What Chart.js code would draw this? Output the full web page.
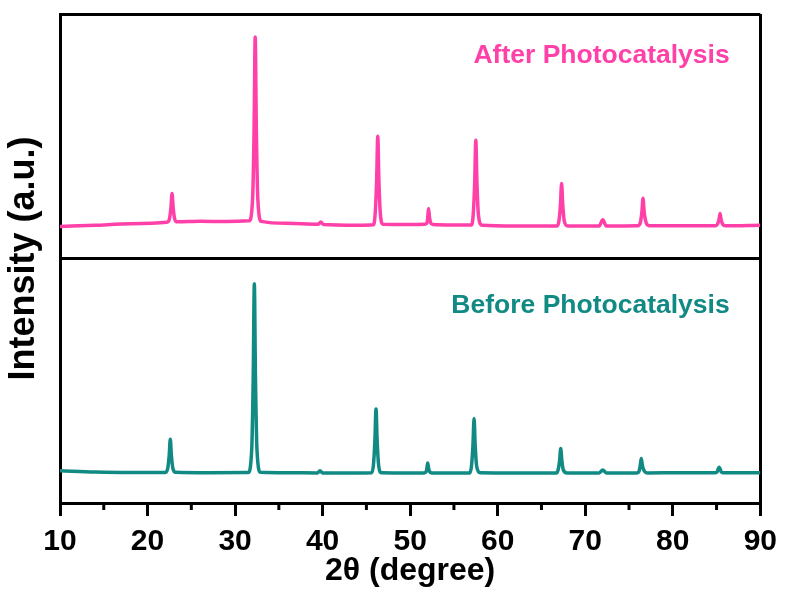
<!DOCTYPE html>
<html><head><meta charset="utf-8">
<script src="https://cdn.jsdelivr.net/npm/chart.js"></script>
<style>html,body{margin:0;padding:0;background:#fff;}canvas{display:block;}</style>
</head><body>
<canvas id="c" width="785" height="591"></canvas>
<script>
// ---- data (panel units) ----
const afterTheta = [10,14,18,22.2,22.5,22.67,22.8,22.93,23.1,23.4,26,29,31.6,32.0,32.17,32.3,32.43,32.6,33.0,36,39.5,39.8,40.1,44,45.8,46.0,46.17,46.3,46.43,46.6,46.9,50,51.7,51.93,52.02,52.1,52.2,52.33,52.6,55,57.0,57.2,57.37,57.5,57.63,57.8,58.2,62,66.8,67.0,67.17,67.3,67.43,67.6,68.0,71.6,72.0,72.4,76.0,76.3,76.47,76.6,76.73,76.95,77.3,81,84.9,85.1,85.28,85.4,85.52,85.7,86.0,90];
const afterIntensity = [13.1,13.6,14.2,14.8,16.2,20.7,26.6,20.7,16.2,15.0,15.2,15.1,15.4,24.2,52.9,90.6,52.9,24.2,15.2,14.4,14.0,14.9,13.9,13.6,13.8,18.1,31.9,50.0,31.9,18.1,14.0,13.9,14.0,14.7,17.2,20.5,17.2,14.7,13.9,13.7,13.7,17.8,31.0,48.4,31.0,17.8,13.6,13.3,13.3,15.4,22.0,30.7,22.0,15.4,13.3,13.3,15.8,13.3,13.4,14.7,19.0,24.6,19.0,14.7,13.4,13.4,13.4,14.0,15.9,18.4,15.9,14.0,13.4,13.6];
const beforeTheta = [10,14,18,22.0,22.3,22.47,22.6,22.73,22.9,23.2,27,31.5,31.9,32.07,32.2,32.33,32.5,32.9,36,39.4,39.7,40.0,44,45.6,45.8,45.97,46.1,46.23,46.4,46.7,50,51.6,51.83,51.92,52.0,52.1,52.23,52.5,56.8,57.0,57.17,57.3,57.43,57.6,58.0,62,66.7,66.9,67.07,67.2,67.33,67.5,67.9,71.6,72.0,72.4,75.9,76.15,76.28,76.4,76.53,76.75,77.1,81,84.8,85.05,85.3,85.55,85.8,90];
const beforeIntensity = [13.2,12.7,12.5,12.5,14.1,19.3,26.1,19.3,14.1,12.6,12.4,12.5,21.8,51.1,89.7,51.1,21.8,12.6,12.4,12.3,13.2,12.3,12.3,12.4,15.4,25.4,38.4,25.4,15.4,12.4,12.3,12.3,12.8,14.4,16.4,14.4,12.8,12.3,12.3,15.0,23.5,34.6,23.5,15.0,12.4,12.3,12.3,13.5,17.3,22.3,17.3,13.5,12.3,12.3,13.5,12.3,12.3,13.0,15.3,18.2,15.3,13.0,12.3,12.4,12.4,12.7,14.6,12.7,12.4,12.4];
const seriesNames = ['After Photocatalysis', 'Before Photocatalysis'];
const xTickValues = [10,20,30,40,50,60,70,80,90];
const minorTickValues = [15,25,35,45,55,65,75,85];
const xTitle = '2\u03B8 (degree)';
const yTitle = 'Intensity (a.u.)';
const panelSpan = 100;   // each stacked panel spans 100 units

const FONT = "'Liberation Sans', Arial, sans-serif";
const PINK = '#ff40a8';
const TEAL = '#118a84';

function toPoints(xs, ys, offset) { return xs.map((x, i) => ({ x: x, y: ys[i] + offset })); }

const panelLabels = {
  id: 'panelLabels',
  afterDatasetsDraw(chart, args, opts) {
    const ctx = chart.ctx, xs = chart.scales.x, ys = chart.scales.y;
    chart.data.datasets.forEach((ds, i) => {
      const a = opts.anchors[i];
      ctx.save();
      ctx.font = 'bold 26.5px ' + FONT;
      ctx.fillStyle = ds.borderColor;
      ctx.textAlign = 'right';
      ctx.textBaseline = 'alphabetic';
      ctx.fillText(ds.label, xs.getPixelForValue(a.x), ys.getPixelForValue(a.y));
      ctx.restore();
    });
  }
};

const minorTicks = {
  id: 'minorTicks',
  afterDraw(chart) {
    const ctx = chart.ctx, xs = chart.scales.x, b = chart.chartArea.bottom;
    ctx.save();
    ctx.strokeStyle = '#000';
    ctx.lineWidth = 3;
    minorTickValues.forEach(v => {
      const p = xs.getPixelForValue(v);
      ctx.beginPath(); ctx.moveTo(p, b); ctx.lineTo(p, b + 7); ctx.stroke();
    });
    ctx.restore();
  }
};

new Chart(document.getElementById('c'), {
  type: 'line',
  data: {
    datasets: [
      { label: seriesNames[0], data: toPoints(afterTheta, afterIntensity, panelSpan),
        borderColor: PINK, borderWidth: 3.5, pointRadius: 0, cubicInterpolationMode: 'monotone', fill: false },
      { label: seriesNames[1], data: toPoints(beforeTheta, beforeIntensity, 0),
        borderColor: TEAL, borderWidth: 3.5, pointRadius: 0, cubicInterpolationMode: 'monotone', fill: false }
    ]
  },
  options: {
    responsive: false,
    animation: false,
    devicePixelRatio: 1,
    layout: { padding: { left: 0, right: 20, top: 14, bottom: 0 } },
    plugins: {
      legend: { display: false },
      tooltip: { enabled: false },
      panelLabels: { anchors: [ { x: 86.5, y: 180 }, { x: 86.5, y: 77.7 } ] }
    },
    scales: {
      x: {
        type: 'linear', min: 10, max: 90,
        afterBuildTicks: s => { s.ticks = xTickValues.map(v => ({ value: v })); },
        afterFit: s => { s.height = 88; },
        ticks: { color: '#000', font: { family: FONT, size: 30, weight: 'bold' }, padding: 8, maxRotation: 0 },
        grid: {
          color: c => (c.tick && c.tick.value === 90) ? '#000' : 'rgba(0,0,0,0)',
          lineWidth: 3, tickColor: '#000', tickWidth: 3, tickLength: 13, drawTicks: true
        },
        border: { display: true, color: '#000', width: 3 },
        title: { display: true, text: xTitle, color: '#000',
          font: { family: FONT, size: 32, weight: 'bold', lineHeight: 1 }, padding: { top: 0, bottom: 4 } }
      },
      y: {
        type: 'linear', min: 0, max: 2 * panelSpan,
        afterFit: s => { s.width = 60; },
        ticks: { display: false, stepSize: panelSpan },
        grid: { color: '#000', lineWidth: 3, drawTicks: false },
        border: { display: true, color: '#000', width: 3 },
        title: { display: true, text: yTitle, color: '#000',
          font: { family: FONT, size: 36, weight: 'bold', lineHeight: 1 }, padding: { top: 6, bottom: 0 } }
      }
    }
  },
  plugins: [panelLabels, minorTicks]
});
</script>
</body></html>
